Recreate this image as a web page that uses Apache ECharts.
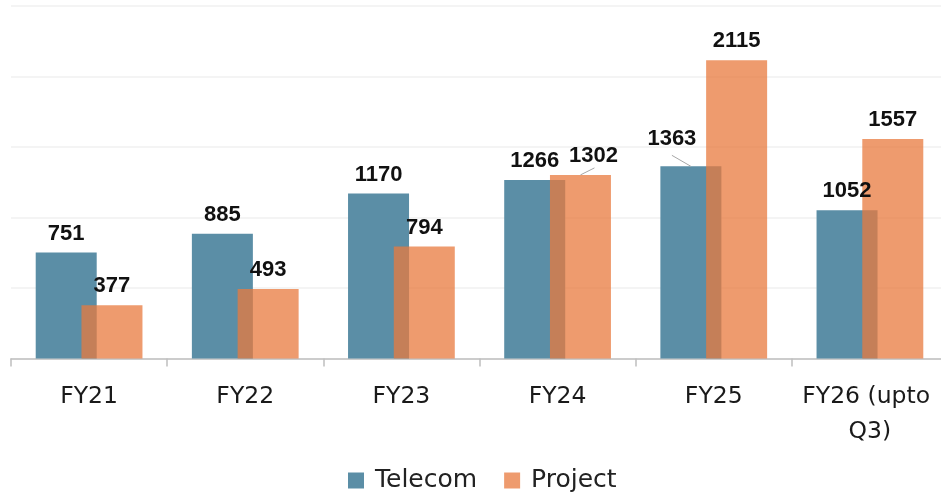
<!DOCTYPE html>
<html>
<head>
<meta charset="utf-8">
<script src="https://cdn.jsdelivr.net/npm/echarts@6/dist/echarts.min.js"></script>
<style>
  html, body { margin: 0; padding: 0; background: #fff; }
  #chart-container { width: 941px; height: 494px; }
</style>
</head>
<body>
<div id="chart-container"></div>
<script>
var years = ['FY21', 'FY22', 'FY23', 'FY24', 'FY25', 'FY26 (upto Q3)'];
var telecom = [751, 885, 1170, 1266, 1363, 1052];
var project = [377, 493, 794, 1302, 2115, 1557];

var dom = document.getElementById('chart-container');
var myChart = echarts.init(dom, null, { renderer: 'canvas' });

var font = 'Liberation Sans, Arial, sans-serif';
var wideFont = 'DejaVu Sans, sans-serif';

// labels that were dragged aside in the original, [dx, dy] of label and of leader line end
var movedTelecom = { 4: { label: [-19, -8], line: [-19, -11] } };
var movedProject = { 3: { label: [13, 0], line: [14, -7] } };

var labelOption = {
  show: true,
  position: 'top',
  distance: 8,
  fontFamily: font,
  fontSize: 22,
  fontWeight: 'bold',
  color: '#111'
};

function layoutFor(moved) {
  return function (p) {
    var m = moved[p.dataIndex];
    return m ? { dx: m.label[0], dy: m.label[1] } : {};
  };
}

var option = {
  animation: false,
  legend: {
    data: ['Telecom', 'Project'],
    left: 343,
    top: 463,
    icon: 'rect',
    itemWidth: 16,
    itemHeight: 16,
    itemGap: 27,
    textStyle: {
      fontFamily: wideFont,
      fontSize: 25,
      color: '#222',
      padding: [0, 0, 0, 6]
    }
  },
  grid: {
    left: 11,
    top: 6,
    width: 937,
    bottom: 135.5,
    outerBoundsMode: 'none'
  },
  xAxis: {
    type: 'category',
    data: years,
    axisLine: { lineStyle: { color: '#bfbfbf', width: 1.5 } },
    axisTick: { show: true, length: 8, lineStyle: { color: '#bfbfbf', width: 1.5 } },
    axisLabel: {
      interval: 0,
      margin: 21,
      fontFamily: wideFont,
      fontSize: 23.5,
      lineHeight: 35,
      color: '#1a1a1a',
      width: 150,
      overflow: 'break'
    }
  },
  yAxis: {
    type: 'value',
    min: 0,
    max: 2500,
    interval: 500,
    axisLabel: { show: false },
    axisLine: { show: false },
    axisTick: { show: false },
    splitLine: { lineStyle: { color: '#f0f0f0', width: 1.5 } }
  },
  series: [
    {
      name: 'Telecom',
      type: 'bar',
      barWidth: 61,
      barGap: '-25%',
      itemStyle: { color: '#5b8ea6' },
      label: labelOption,
      labelLayout: layoutFor(movedTelecom),
      data: telecom
    },
    {
      name: 'Project',
      type: 'bar',
      barWidth: 61,
      itemStyle: { color: 'rgba(232,121,62,0.75)' },
      label: labelOption,
      labelLayout: layoutFor(movedProject),
      data: project
    }
  ]
};

myChart.setOption(option);

// leader lines from bar top to the moved labels
var lines = [];
[movedTelecom, movedProject].forEach(function (moved, s) {
  var data = myChart.getModel().getSeriesByIndex(s).getData();
  Object.keys(moved).forEach(function (k) {
    var l = data.getItemLayout(+k);
    var x = l.x + l.width / 2;
    var y = Math.min(l.y, l.y + l.height);
    lines.push({
      type: 'line',
      z: 10,
      shape: { x1: x, y1: y, x2: x + moved[k].line[0], y2: y + moved[k].line[1] },
      style: { stroke: '#a6a6a6', lineWidth: 1 }
    });
  });
});
myChart.setOption({ graphic: lines });

window.addEventListener('resize', myChart.resize);
</script>
</body>
</html>
